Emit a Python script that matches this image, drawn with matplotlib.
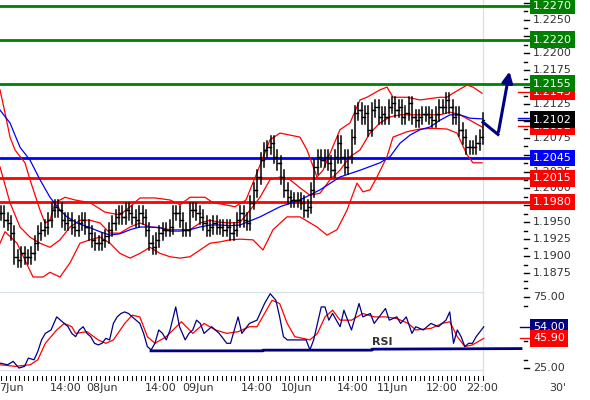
import numpy as np
import matplotlib
matplotlib.use('Agg')
import matplotlib.pyplot as plt

#---------------------------------------------------------------------------
# DATA

# 30 minute closes, left to right
closes = [1.1964, 1.1953, 1.1949, 1.1934, 1.1899, 1.1894, 1.1904, 1.1899, 1.1899, 1.1904,
          1.1919, 1.1934, 1.1939, 1.1943, 1.1953, 1.1968, 1.1973, 1.1968, 1.1953, 1.1949,
          1.1953, 1.1943, 1.1939, 1.1949, 1.1953, 1.1943, 1.1934, 1.1924, 1.1919, 1.1919,
          1.1924, 1.1929, 1.1939, 1.1949, 1.1958, 1.1964, 1.1958, 1.1968, 1.1964, 1.1958,
          1.1953, 1.1964, 1.1958, 1.1939, 1.1919, 1.1913, 1.1924, 1.1934, 1.1939, 1.1939,
          1.1943, 1.1964, 1.1964, 1.1953, 1.1939, 1.1939, 1.1968, 1.1968, 1.1964, 1.1958,
          1.1949, 1.1939, 1.1943, 1.1949, 1.1943, 1.1943, 1.1939, 1.1943, 1.1934, 1.1939,
          1.1953, 1.1964, 1.1953, 1.1949,
          1.1979, 1.1998, 1.2017, 1.2042, 1.2057, 1.2061, 1.2067, 1.2047, 1.2038, 1.2017,
          1.1998, 1.1987, 1.1983, 1.1983, 1.1983, 1.1979, 1.1968, 1.1973, 1.1998, 1.2032,
          1.2047, 1.2042, 1.2047, 1.2038, 1.2027, 1.2047, 1.2067, 1.2047, 1.2032, 1.2047,
          1.2076, 1.2112, 1.2116, 1.2106, 1.2112, 1.2087, 1.2116, 1.2121, 1.2106, 1.2110,
          1.2106, 1.2121, 1.2126, 1.2116, 1.2121, 1.2106, 1.2112, 1.2126, 1.2106, 1.2101,
          1.2106, 1.2110, 1.2110, 1.2106, 1.2101, 1.2110, 1.2121, 1.2121, 1.2131, 1.2121,
          1.2106, 1.2110, 1.2087, 1.2076, 1.2061, 1.2061, 1.2061, 1.2067, 1.2076, 1.2102]

# bollinger bands and moving average (time position, price)
upper_t = [0, 5, 10, 15, 25, 30, 40, 45, 50, 55, 65, 75, 90, 105, 120, 130, 140, 155, 170, 180,
           190, 205, 213, 225, 235, 246, 258, 270, 280, 300, 307, 317, 323, 340, 350, 357, 360,
           367, 380, 387, 393, 407, 420, 440, 447, 453, 467, 473, 482]
upper_p = [1.2146, 1.2112, 1.2076, 1.2057, 1.2038, 1.2013, 1.1968, 1.1949, 1.1953, 1.1979,
           1.1987, 1.1983, 1.1979, 1.1965, 1.1961, 1.1973, 1.1986, 1.1986, 1.1983, 1.1976,
           1.1987, 1.1987, 1.1979, 1.1976, 1.1973, 1.1983, 1.2027, 1.2072, 1.2082, 1.2076,
           1.2057, 1.2017, 1.2027, 1.2087, 1.2097, 1.2121, 1.2131, 1.2135, 1.2146, 1.2150,
           1.2135, 1.2135, 1.2131, 1.2135, 1.2135, 1.2141, 1.2153, 1.2150, 1.2141]
lower_t = [0, 5, 17, 33, 43, 50, 60, 70, 80, 90, 100, 110, 120, 130, 140, 150, 160, 170, 180,
           190, 200, 210, 220, 230, 240, 253, 263, 273, 287, 300, 317, 327, 337, 347, 357, 363,
           370, 377, 387, 393, 407, 420, 433, 447, 457, 467, 473, 482]
lower_p = [1.1919, 1.1936, 1.1919, 1.1869, 1.1869, 1.1876, 1.1869, 1.1890, 1.1919, 1.1924,
           1.1928, 1.1919, 1.1904, 1.1897, 1.1904, 1.1913, 1.1904, 1.1899, 1.1897, 1.1899,
           1.1909, 1.1919, 1.1921, 1.1924, 1.1925, 1.1924, 1.1909, 1.1939, 1.1958, 1.1958,
           1.1943, 1.1931, 1.1939, 1.1968, 1.2008, 1.1995, 1.1998, 1.2017, 1.2047, 1.2076,
           1.2084, 1.2088, 1.2089, 1.2088, 1.2082, 1.2050, 1.2038, 1.2038]
mid_t = [0, 10, 20, 30, 40, 50, 60, 70, 80, 90, 100, 110, 120, 130, 140, 150, 160, 170, 180,
         190, 200, 210, 220, 230, 240, 250, 260, 270, 280, 290, 300, 310, 320, 330, 340, 350,
         360, 370, 380, 390, 400, 413, 427, 440, 450, 460, 470, 482]
mid_p = [1.2032, 1.1979, 1.1943, 1.1928, 1.1919, 1.1913, 1.1924, 1.1943, 1.1953, 1.1953,
         1.1949, 1.1934, 1.1934, 1.1943, 1.1949, 1.1943, 1.1942, 1.1939, 1.1939, 1.1939,
         1.1949, 1.1953, 1.1950, 1.1949, 1.1950, 1.1968, 1.1987, 1.2013, 1.2017, 1.2013,
         1.2001, 1.1990, 1.1993, 1.2013, 1.2027, 1.2047, 1.2057, 1.2082, 1.2097, 1.2106,
         1.2109, 1.2109, 1.2109, 1.2109, 1.2113, 1.2109, 1.2101, 1.2091]
ma_t = [0, 10, 20, 30, 40, 50, 60, 67, 77, 90, 100, 110, 120, 130, 140, 150, 160, 170, 180,
        190, 200, 210, 220, 230, 240, 260, 280, 300, 320, 340, 360, 380, 390, 400, 410, 420,
        430, 440, 450, 460, 470, 482]
ma_p = [1.2116, 1.2097, 1.2061, 1.2042, 1.2013, 1.1987, 1.1968, 1.1958, 1.1949, 1.1942,
        1.1936, 1.1931, 1.1933, 1.1939, 1.1943, 1.1943, 1.1942, 1.1937, 1.1937, 1.1939,
        1.1943, 1.1946, 1.1946, 1.1945, 1.1946, 1.1958, 1.1973, 1.1983, 1.1998, 1.2017,
        1.2027, 1.2038, 1.2047, 1.2067, 1.2079, 1.2087, 1.2091, 1.2101, 1.2109, 1.2109,
        1.2104, 1.2103]

# forecast arrow
arrow_t = [483, 498, 510]
arrow_p = [1.2098, 1.2080, 1.2177]

# horizontal levels
green_levels = [1.2270, 1.2220, 1.2155]
blue_levels = [1.2045]
red_levels = [1.2015, 1.1980]
band_labels = [1.2143, 1.2092]
last_price = 1.2102

# RSI (14) and its average
rsi = [28.5, 27.3, 29.7, 25.0, 26.2, 32.0, 30.8, 36.6, 44.8, 49.4, 51.8, 61.0, 58.7, 56.4, 54.1,
       49.4, 47.1, 51.8, 54.1, 49.4, 47.1, 42.4, 41.3, 42.4, 45.9, 44.8, 56.4, 61.0, 63.4, 64.5,
       63.4, 61.0, 58.7, 56.4, 49.4, 40.1, 37.8, 42.4, 51.8, 49.4, 44.8, 51.8, 68.0, 54.1, 44.8,
       49.4, 51.8, 58.7, 56.4, 49.4, 54.1, 49.4, 42.4, 42.4, 51.8, 61.0, 49.4, 56.4, 58.7, 70.4,
       77.3, 72.7, 61.0, 47.1, 44.8, 44.8, 44.8, 44.8, 37.8, 44.8, 68.0, 68.0, 58.7, 63.4, 58.7,
       54.1, 65.7, 58.7, 51.8, 61.0, 70.4, 61.0, 63.4, 56.4, 63.4, 66.9, 58.7, 61.0, 56.4, 61.0,
       49.4, 54.1, 51.8, 56.4, 54.1, 58.7, 64.5, 42.4, 51.8, 47.1, 40.1, 42.4, 42.4, 47.1, 54.0]
rsi_t = [0, 20, 35, 50, 65, 75, 90, 100, 110, 120, 135, 150, 160, 170, 180, 190, 200, 210, 220,
         230, 240, 250, 260, 270, 280, 290, 300, 310, 320, 330, 340, 350, 360, 370, 380, 390, 400,
         410, 420, 430, 440, 450, 465, 475, 490, 500, 510, 520, 530, 540, 560, 580, 600, 610, 620,
         630, 640, 660, 680, 700, 715, 730, 740, 750, 760, 770, 790, 810, 820, 830, 850, 860, 870,
         880, 890, 900, 910, 920, 930, 940, 950, 960, 980, 990, 1010, 1020, 1030, 1050, 1060, 1075,
         1090, 1100, 1120, 1140, 1160, 1180, 1190, 1200, 1210, 1220, 1230, 1240, 1250, 1260, 1280]
rsi_ma = [27.3, 26.2, 27.3, 30.8, 42.4, 51.8, 56.4, 54.1, 49.4, 50.6, 44.8, 42.4, 44.8, 56.4,
          62.2, 61.0, 47.1, 42.4, 47.1, 57.6, 49.4, 56.4, 51.8, 49.4, 50.6, 54.1, 54.1, 63.4,
          72.7, 70.4, 56.4, 47.1, 44.8, 49.4, 61.0, 65.7, 58.7, 58.7, 63.4, 61.0, 61.0, 59.9,
          56.4, 51.8, 52.9, 56.4, 57.6, 47.1, 40.1, 41.3, 45.9]
rsi_ma_t = [0, 40, 80, 100, 120, 150, 170, 190, 200, 230, 260, 280, 300, 330, 350, 370, 390,
            410, 440, 480, 510, 540, 570, 600, 630, 660, 680, 700, 720, 740, 760, 780, 820, 840,
            860, 880, 900, 930, 960, 990, 1020, 1050, 1080, 1100, 1140, 1170, 1190, 1210, 1230,
            1250, 1280]
rsi_zoom_scale = 2.646   # rsi_t / rsi_ma_t were read in zoomed units
rsi_support_t = [151, 263, 263, 372, 372, 521]
rsi_support = [37.1, 37.1, 37.6, 37.6, 38.3, 38.7]

time_pos = [11, 66, 102, 161, 198, 257, 297, 353, 393, 442, 482]
time_labels = ['7Jun', '14:00', '08Jun', '14:00', '09Jun', '14:00', '10Jun', '14:00',
               '11Jun', '12:00', '22:00']

#---------------------------------------------------------------------------
GREEN = '#008000'
RED = '#ff0000'
BLUE = '#0000ff'
NAVY = '#000080'
GRID = '#d8e2ea'
TXT = '#333333'
W, H = 590., 400.

fig = plt.figure(figsize=(5.9, 4.0), dpi=100)
ax = fig.add_axes([0, 1 - 285 / H, 1, 285 / H])
ax2 = fig.add_axes([0, 1 - 376 / H, 1, 91 / H])
for a in (ax, ax2):
    a.set_xlim(0, W)
    a.axis('off')
ax.set_ylim(1.18572, 1.22789)
ax2.set_ylim(19.4, 83.45)

def price_box(a, val, txt, color, zo=6):
    a.text(533, val, txt, color='white', fontsize=8, va='center', ha='left', zorder=zo,
           clip_on=False, bbox=dict(boxstyle='square,pad=0.3', fc=color, ec='none'))

#--- price panel
ax.axvline(483, color=GRID, lw=1, zorder=0)
for lv in green_levels:
    ax.plot([0, 531], [lv, lv], color=GREEN, lw=2, zorder=2)
    price_box(ax, lv, '%.4f' % lv, GREEN)
for lv in blue_levels:
    ax.plot([0, 531], [lv, lv], color=BLUE, lw=2, zorder=2)
    price_box(ax, lv, '%.4f' % lv, BLUE)
for lv in red_levels:
    ax.plot([0, 531], [lv, lv], color=RED, lw=2, zorder=2)
    price_box(ax, lv, '%.4f' % lv, RED)
for lv in band_labels:
    ax.plot([518, 531], [lv, lv], color=RED, lw=1)
    price_box(ax, lv, '%.4f' % lv, RED, zo=5)
ax.plot([518, 531], [last_price + 0.0002, last_price + 0.0002], color=BLUE, lw=1)
ax.plot([518, 531], [last_price - 0.0001, last_price - 0.0001], color='black', lw=1)
price_box(ax, last_price, '%.4f' % last_price, 'black', zo=7)

# scale ticks and labels
for v in np.arange(1.1875, 1.2276, 0.0025):
    ax.plot([524, 529], [v, v], color='black', lw=1, zorder=1)
    ax.text(533, v, '%.4f' % v, color=TXT, fontsize=8, va='center', ha='left', zorder=3)
for v in np.arange(1.18625, 1.2276, 0.0025):
    ax.plot([524, 527], [v, v], color='black', lw=1, zorder=1)

ax.plot(upper_t, upper_p, color=RED, lw=0.9, zorder=3)
ax.plot(lower_t, lower_p, color=RED, lw=0.9, zorder=3)
ax.plot(mid_t, mid_p, color=RED, lw=0.9, zorder=3)
ax.plot(ma_t, ma_p, color=BLUE, lw=0.9, zorder=3)

# OHLC bars
x = np.linspace(1, 483, len(closes))
opens = [closes[0]] + closes[:-1]
for xi, o, c in zip(x, opens, closes):
    hi = max(o, c) + 0.0010
    lo = min(o, c) - 0.0010
    ax.plot([xi, xi], [lo, hi], color='black', lw=1.1, zorder=4)
    ax.plot([xi - 1.3, xi], [o, o], color='black', lw=1, zorder=4)
    ax.plot([xi, xi + 1.3], [c, c], color='black', lw=1, zorder=4)

ax.plot(arrow_t[:2], arrow_p[:2], color=NAVY, lw=2.2, zorder=5)
ax.annotate('', xy=(arrow_t[2], arrow_p[2]), xytext=(arrow_t[1], arrow_p[1]),
            arrowprops=dict(arrowstyle='-|>', color=NAVY, lw=2.2, mutation_scale=16),
            zorder=5)

#--- RSI panel
ax2.axvline(483, color=GRID, lw=1, zorder=0)
ax2.plot([0, 483], [78.5, 78.5], color=GRID, lw=1, zorder=0)
ax2.plot([0, 483], [23.3, 23.3], color=GRID, lw=1, zorder=0)
ax2.plot(np.array(rsi_ma_t) / rsi_zoom_scale, rsi_ma, color=RED, lw=0.9)
ax2.plot(np.array(rsi_t) / rsi_zoom_scale, rsi, color=NAVY, lw=0.9)
ax2.plot(rsi_support_t, rsi_support, color=NAVY, lw=2)
ax2.text(382, 43.6, 'RSI', color=TXT, fontsize=8, fontweight='bold', ha='center', va='center')
for v in (75, 25):
    ax2.plot([524, 529], [v, v], color='black', lw=1, clip_on=False)
    ax2.text(533, v, '%.2f' % v, color=TXT, fontsize=8, va='center', ha='left', clip_on=False)
for v in (81, 69, 44, 31):
    ax2.plot([524, 527], [v, v], color='black', lw=1, clip_on=False)
ax2.plot([520, 531], [rsi[-1], rsi[-1]], color=NAVY, lw=1)
ax2.plot([520, 531], [rsi_ma[-1], rsi_ma[-1]], color=RED, lw=1)
price_box(ax2, rsi[-1], '%.2f' % rsi[-1], NAVY)
price_box(ax2, rsi_ma[-1], '%.2f' % rsi_ma[-1], RED)

# time axis
for xt in np.arange(1, 484, 4.5):
    ax2.plot([xt, xt], [19.4, 16.6], color='black', lw=0.7, clip_on=False)
for xt, lb in zip(time_pos, time_labels):
    ax2.text(xt, 11.0, lb, color=TXT, fontsize=8, ha='center', va='center', clip_on=False)
ax2.text(558, 11.0, "30'", color=TXT, fontsize=8, ha='center', va='center', clip_on=False)

fig.savefig('out.png', dpi=100)
